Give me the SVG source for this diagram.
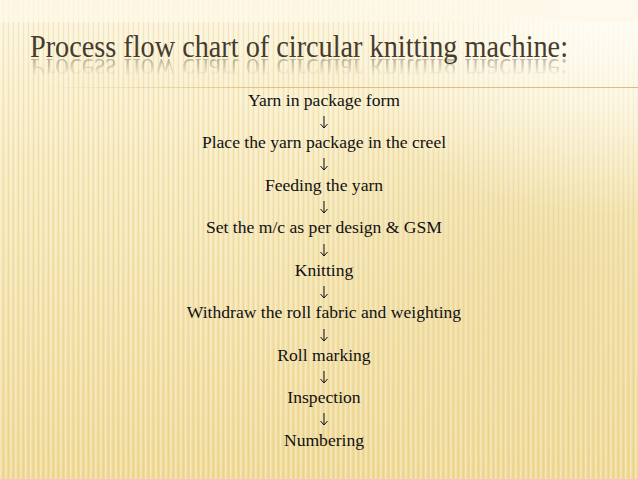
<svg xmlns="http://www.w3.org/2000/svg" xmlns:xlink="http://www.w3.org/1999/xlink" width="638" height="479" viewBox="0 0 638 479">
  <defs>
    <linearGradient id="bg" x1="0" y1="0" x2="0" y2="1">
      <stop offset="0" stop-color="#fcf5dd"/>
      <stop offset="0.35" stop-color="#f7e9bb"/>
      <stop offset="1" stop-color="#efd995"/>
    </linearGradient>
    <radialGradient id="glow" cx="0.95" cy="0" r="0.45">
      <stop offset="0" stop-color="#fffdf5" stop-opacity="1"/>
      <stop offset="1" stop-color="#fffdf5" stop-opacity="0"/>
    </radialGradient>
    <radialGradient id="shade" cx="0.85" cy="0.55" r="0.45">
      <stop offset="0" stop-color="#e6cf88" stop-opacity="0.35"/>
      <stop offset="1" stop-color="#e6cf88" stop-opacity="0"/>
    </radialGradient>
    <pattern id="stripes" width="5" height="10" patternUnits="userSpaceOnUse">
      <rect x="0" y="0" width="1.5" height="10" fill="#ffffff" opacity="0.35"/>
      <rect x="3" y="0" width="1" height="10" fill="#d9c07a" opacity="0.25"/>
    </pattern>
    <linearGradient id="rule" x1="0" y1="0" x2="1" y2="0">
      <stop offset="0" stop-color="#d9b56a" stop-opacity="0"/>
      <stop offset="0.4" stop-color="#d9b56a" stop-opacity="0.8"/>
      <stop offset="1" stop-color="#d9b56a" stop-opacity="0.9"/>
    </linearGradient>
    <linearGradient id="reflFade" x1="0" y1="58" x2="0" y2="76" gradientUnits="userSpaceOnUse">
      <stop offset="0" stop-color="#fff" stop-opacity="0.35"/>
      <stop offset="1" stop-color="#fff" stop-opacity="0"/>
    </linearGradient>
    <mask id="reflMask" maskUnits="userSpaceOnUse" x="0" y="57" width="638" height="25">
      <rect x="0" y="57" width="638" height="25" fill="url(#reflFade)"/>
    </mask>
    <marker id="ah" viewBox="0 0 8 8" refX="7.5" refY="4" markerWidth="8" markerHeight="8" markerUnits="userSpaceOnUse" orient="auto">
      <path d="M3.5,0.5 L7.5,4 L3.5,7.5" fill="none" stroke="#111" stroke-width="1"/>
    </marker>
    <style>
      .title { font-family: "Liberation Serif", "Times New Roman", serif; font-size: 31px; fill: #453b2e; }
      .step { font-family: "Liberation Serif", "Times New Roman", serif; font-size: 17.6px; fill: #111111; text-anchor: middle; }
      .conn { stroke: #111111; stroke-width: 1; fill: none; }
    </style>
  </defs>

  <!-- background -->
  <rect x="0" y="0" width="638" height="479" fill="url(#bg)"/>
  <rect x="0" y="0" width="638" height="479" fill="url(#stripes)"/>
  <rect x="0" y="0" width="638" height="479" fill="url(#shade)"/>
  <rect x="0" y="0" width="638" height="479" fill="url(#glow)"/>
  <rect x="0" y="0" width="638" height="22" fill="#fdf8e8" opacity="0.7"/>

  <!-- title -->
  <g id="title-group">
    <text id="title" class="title" x="30" y="57" textLength="538" lengthAdjust="spacingAndGlyphs">Process flow chart of circular knitting machine:</text>
    <g mask="url(#reflMask)">
      <use xlink:href="#title" href="#title" transform="translate(0,116) scale(1,-1)"/>
    </g>
  </g>
  <rect x="40" y="87" width="598" height="1" fill="url(#rule)"/>

  <!-- nodes -->
  <g id="n1"><text class="step" x="324" y="106">Yarn in package form</text></g>
  <g id="n2"><text class="step" x="324" y="148">Place the yarn package in the creel</text></g>
  <g id="n3"><text class="step" x="324" y="191">Feeding the yarn</text></g>
  <g id="n4"><text class="step" x="324" y="233">Set the m/c as per design &amp; GSM</text></g>
  <g id="n5"><text class="step" x="324" y="276">Knitting</text></g>
  <g id="n6"><text class="step" x="324" y="318">Withdraw the roll fabric and weighting</text></g>
  <g id="n7"><text class="step" x="324" y="361">Roll marking</text></g>
  <g id="n8"><text class="step" x="324" y="403">Inspection</text></g>
  <g id="n9"><text class="step" x="324" y="446">Numbering</text></g>

  <!-- connectors -->
  <g id="connectors">
    <line class="conn" x1="324" y1="116" x2="324" y2="128" marker-end="url(#ah)"/>
    <line class="conn" x1="324" y1="158" x2="324" y2="170" marker-end="url(#ah)"/>
    <line class="conn" x1="324" y1="201" x2="324" y2="213" marker-end="url(#ah)"/>
    <line class="conn" x1="324" y1="244" x2="324" y2="256" marker-end="url(#ah)"/>
    <line class="conn" x1="324" y1="286" x2="324" y2="298" marker-end="url(#ah)"/>
    <line class="conn" x1="324" y1="329" x2="324" y2="341" marker-end="url(#ah)"/>
    <line class="conn" x1="324" y1="371" x2="324" y2="383" marker-end="url(#ah)"/>
    <line class="conn" x1="324" y1="413" x2="324" y2="425" marker-end="url(#ah)"/>
  </g>
</svg>
